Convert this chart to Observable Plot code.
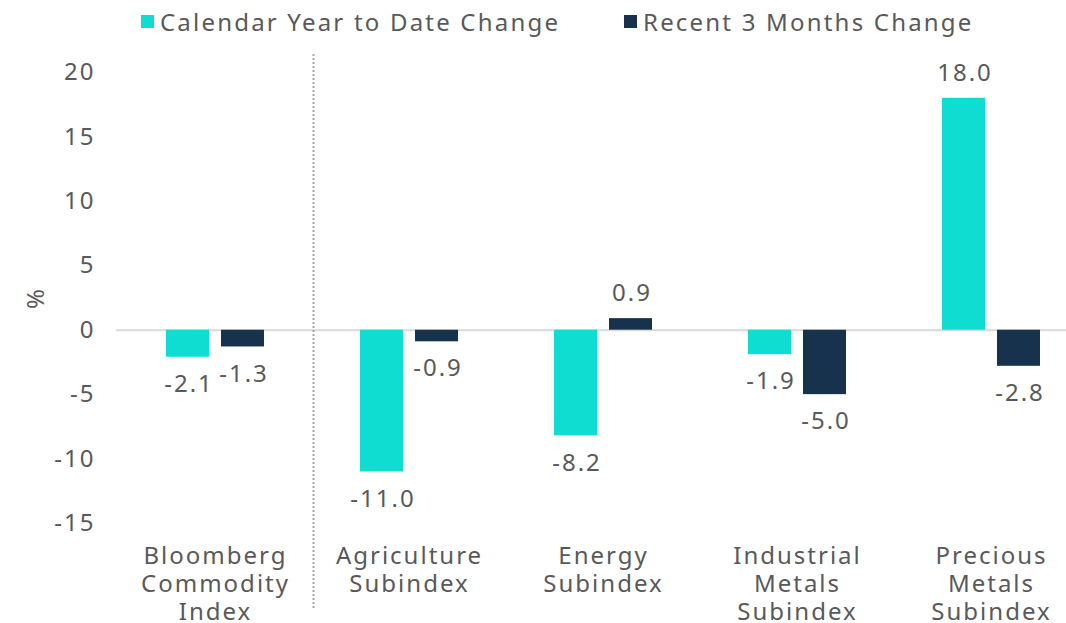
<!DOCTYPE html>
<html>
<head>
<meta charset="utf-8">
<script src="https://cdn.jsdelivr.net/npm/d3@7"></script>
<script src="https://cdn.jsdelivr.net/npm/@observablehq/plot@0.6"></script>
<style>
  html, body { margin: 0; padding: 0; background: #fff; }
  body { width: 1066px; height: 623px; overflow: hidden; font-family: "Noto Sans", sans-serif; color: #595959; }
  #legend { height: 40px; position: relative; font-size: 24px; letter-spacing: 2.2px; }
  .item { position: absolute; top: 5px; display: flex; align-items: center; height: 32px; white-space: nowrap; }
  .sw { width: 13px; height: 13px; margin-right: 6px; }
</style>
</head>
<body>
<div id="legend"></div>
<div id="chart"></div>
<script>
const categories = ["Bloomberg Commodity Index", "Agriculture Subindex", "Energy Subindex", "Industrial Metals Subindex", "Precious Metals Subindex"];
const categoryLabels = ["Bloomberg\nCommodity\nIndex", "Agriculture\nSubindex", "Energy\nSubindex", "Industrial\nMetals\nSubindex", "Precious\nMetals\nSubindex"];
const seriesNames = ["Calendar Year to Date Change", "Recent 3 Months Change"];
const seriesColors = ["#10DDD2", "#17324D"];
const ytdChange = [-2.1, -11.0, -8.2, -1.9, 18.0];
const threeMonthChange = [-1.3, -0.9, 0.9, -5.0, -2.8];
const yTicks = [-15, -10, -5, 0, 5, 10, 15, 20];

const data = [];
categories.forEach((c, i) => {
  data.push({category: c, series: seriesNames[0], value: ytdChange[i]});
  data.push({category: c, series: seriesNames[1], value: threeMonthChange[i]});
});

// legend
const legend = document.getElementById("legend");
const legendX = [141, 624];
seriesNames.forEach((s, i) => {
  const it = document.createElement("div");
  it.className = "item";
  it.style.left = legendX[i] + "px";
  it.innerHTML = `<span class="sw" style="background:${seriesColors[i]}"></span><span>${s}</span>`;
  legend.appendChild(it);
});

const labelMap = new Map(categories.map((c, i) => [c, categoryLabels[i]]));
const offsets = [-27.5, 27.5];
const inset = 75.5;
const textStyle = {fontSize: 24, fill: "#595959"};

const marks = [
  Plot.ruleY([0], {stroke: "#d9d9d9", strokeWidth: 2}),
  Plot.ruleX([categories[1]], {dx: -96, y1: 21.4, y2: -21.6, stroke: "#a6a6a6", strokeWidth: 2, strokeDasharray: "2,2", clip: false})
];
seriesNames.forEach((s, i) => {
  const d = data.filter(r => r.series === s);
  marks.push(Plot.barY(d, {x: "category", y: "value", fill: seriesColors[i], dx: offsets[i], insetLeft: inset, insetRight: inset}));
  marks.push(Plot.text(d.filter(r => r.value < 0), {x: "category", y: "value", text: r => r.value.toFixed(1), dx: offsets[i] + 1, dy: 27, ...textStyle}));
  marks.push(Plot.text(d.filter(r => r.value >= 0), {x: "category", y: "value", text: r => r.value.toFixed(1), dx: offsets[i] + 1, dy: -25, ...textStyle}));
});
marks.push(Plot.axisY({ticks: yTicks, tickFormat: d => String(d), tickSize: 0, tickPadding: 21, fontSize: 24, color: "#595959", label: "%", labelAnchor: "center", labelArrow: "none", labelOffset: 90}));
marks.push(Plot.axisX({tickSize: 0, tickPadding: 20, fontSize: 24, color: "#595959", tickFormat: c => labelMap.get(c), lineHeight: 1.18, label: null}));

const chart = Plot.plot({
  width: 1066,
  height: 583,
  marginTop: 32,
  marginBottom: 100,
  marginLeft: 116,
  marginRight: 0,
  style: {fontFamily: "'Noto Sans', sans-serif", color: "#595959", overflow: "visible", letterSpacing: "2px"},
  x: {domain: categories, range: [116, 1089.3], padding: 0},
  y: {domain: [-15, 20], range: [483, 32]},
  marks
});
document.getElementById("chart").appendChild(chart);
</script>
</body>
</html>
